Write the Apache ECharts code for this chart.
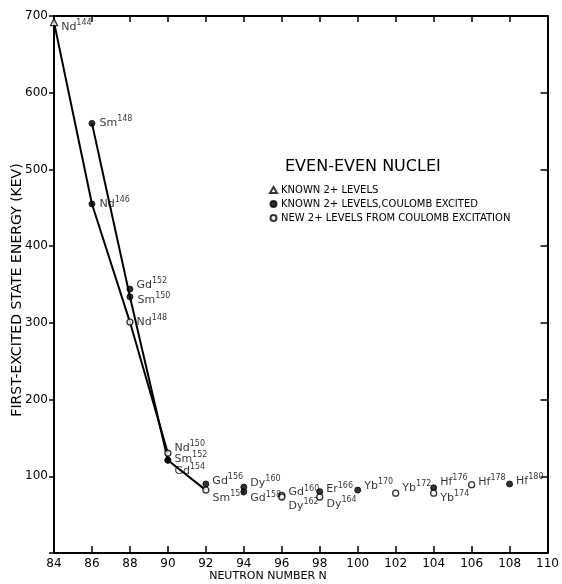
<!DOCTYPE html>
<html>
<head>
<meta charset="utf-8">
<script src="https://cdn.jsdelivr.net/npm/echarts@6/dist/echarts.min.js"></script>
<style>
html,body{margin:0;padding:0;background:#fff;}
#c{width:562px;height:584px;}
</style>
</head>
<body>
<div id="c"></div>
<script>
// ---- data ----
const elements = ['Nd','Sm','Nd','Gd','Sm','Nd','Nd','Sm','Gd','Gd','Sm','Dy','Gd','Gd','Dy','Er','Dy','Yb','Yb','Hf','Yb','Hf','Hf'];
const masses   = [144,148,146,152,150,148,150,152,154,156,154,160,158,160,162,166,164,170,172,176,174,178,180];
const neutrons = [84, 86, 86, 88, 88, 88, 90, 90, 90, 92, 92, 94, 94, 96, 96, 98, 98, 100,102,104,104,106,108];
const energies = [692,560,455,344,334,301,130,121,121,90, 82, 86, 80, 75, 73, 80, 73, 82, 78, 85, 78, 89, 90];
// 0 = known 2+ level, 1 = known, Coulomb excited, 2 = new from Coulomb excitation
const kinds    = [0,  1,  1,  1,  1,  2,  2,  1,  1,  1,  2,  1,  1,  2,  2,  1,  2,  1,  2,  1,  2,  2,  1];
const kindNames = ['KNOWN 2+ LEVELS','KNOWN 2+ LEVELS,COULOMB EXCITED','NEW 2+ LEVELS FROM COULOMB EXCITATION'];
const ndLine = ['Nd144','Nd146','Nd148','Nd150'];
const smLine = ['Sm148','Sm150','Sm152','Sm154'];
const xTicks = [84,110,2];
const yTicks = [0,700,100];

// ---- label placement (style only) ----
const labelOffsets = {
 Nd144:[0,5], Sm148:[1,0], Nd146:[1,0], Gd152:[0,-4], Sm150:[1,3], Nd148:[0,0],
 Nd150:[0,-5], Sm152:[0,-1], Gd154:[0,11], Gd156:[0,-3], Sm154:[0,8],
 Dy160:[0,-4], Gd158:[0,7], Gd160:[0,-3], Dy162:[0,9], Er166:[0,-2], Dy164:[0,7],
 Yb170:[0,-4], Yb172:[0,-5], Hf176:[0,-6], Yb174:[0,5], Hf178:[0,-3], Hf180:[0,-3]
};

const ink = '#000';
const names = elements.map((e,i)=>e+masses[i]);
function pt(name){ const i = names.indexOf(name); return [neutrons[i], energies[i]]; }

const scatterSeries = kindNames.map((kn,k)=>({
  name: kn,
  type: 'scatter',
  symbol: k===0 ? 'triangle' : 'circle',
  symbolSize: k===0 ? 7 : 6,
  itemStyle: k===1 ? {color: ink, borderColor: ink, borderWidth: 1}
                   : {color: '#fff', borderColor: ink, borderWidth: 1.3},
  z: 5,
  data: names.map((n,i)=>({n,i})).filter(o=>kinds[o.i]===k).map(o=>({
    name: o.n,
    value: [neutrons[o.i], energies[o.i]],
    label: {
      show: true, position: 'right', distance: 3,
      offset: labelOffsets[o.n] || [0,0],
      formatter: elements[o.i] + '{s|' + masses[o.i] + '}',
      color: ink, fontFamily: 'DejaVu Sans', fontSize: 11, lineHeight: 16,
      rich: { s: { fontSize: 8, lineHeight: 8, verticalAlign: 'top', color: ink, fontFamily: 'DejaVu Sans' } }
    }
  }))
}));

const lineSeries = [ndLine, smLine].map(arr=>({
  type: 'line', data: arr.map(pt), symbol: 'none', silent: true,
  lineStyle: {color: ink, width: 2}, z: 3
}));

const chart = echarts.init(document.getElementById('c'), null, {renderer:'canvas'});
const axisCommon = {
  axisLine: {show: true, onZero: false, lineStyle: {color: ink, width: 2}},
  splitLine: {show: false}
};
chart.setOption({
  backgroundColor: '#fff',
  animation: false,
  grid: {left: 54, right: 7, top: 16, bottom: 31},
  xAxis: [
    Object.assign({type:'value', min:xTicks[0], max:xTicks[1], interval:xTicks[2], position:'bottom',
      axisTick:{inside:true, length:7, lineStyle:{color:ink, width:1.5}},
      axisLabel:{color:ink, fontSize:12, fontFamily:'DejaVu Sans', margin:5}}, axisCommon),
    Object.assign({type:'value', min:xTicks[0], max:xTicks[1], interval:xTicks[2], position:'top',
      axisTick:{inside:true, length:6, lineStyle:{color:ink, width:1.5}},
      axisLabel:{show:false}}, axisCommon)
  ],
  yAxis: [
    Object.assign({type:'value', min:yTicks[0], max:yTicks[1], interval:yTicks[2], position:'left',
      axisTick:{inside:false, length:5, lineStyle:{color:ink, width:1.5}},
      axisLabel:{color:ink, fontSize:12, fontFamily:'DejaVu Sans', margin:6,
        formatter: v => v===0 ? '' : String(v)}}, axisCommon),
    Object.assign({type:'value', min:yTicks[0], max:yTicks[1], interval:yTicks[2], position:'right',
      axisTick:{inside:true, length:7, lineStyle:{color:ink, width:1.5}},
      axisLabel:{show:false}}, axisCommon)
  ],
  legend: {
    orient: 'vertical', left: 264, top: 180, itemGap: 4,
    itemWidth: 7, itemHeight: 6,
    selectedMode: false,
    data: kindNames.map((n,k)=>({name:n, icon: k===0 ? 'triangle' : 'circle'})),
    textStyle: {color: ink, fontSize: 10, fontFamily: 'DejaVu Sans', padding:[0,0,0,-1]}
  },
  graphic: [
    {type:'text', left: 285, top: 159, style:{text:'EVEN-EVEN NUCLEI', fill: ink, font: '16px "DejaVu Sans"'}},
    {type:'text', x: 268, y: 576, style:{text:'NEUTRON NUMBER N', fill: ink, font:'11px "DejaVu Sans"', textAlign:'center', textVerticalAlign:'middle'}},
    {type:'text', x: 17, y: 290, rotation: Math.PI/2, style:{text:'FIRST-EXCITED STATE ENERGY (KEV)', fill: ink, font:'14px "DejaVu Sans"', textAlign:'center', textVerticalAlign:'middle'}}
  ],
  series: lineSeries.concat(scatterSeries)
});
</script>
</body>
</html>
